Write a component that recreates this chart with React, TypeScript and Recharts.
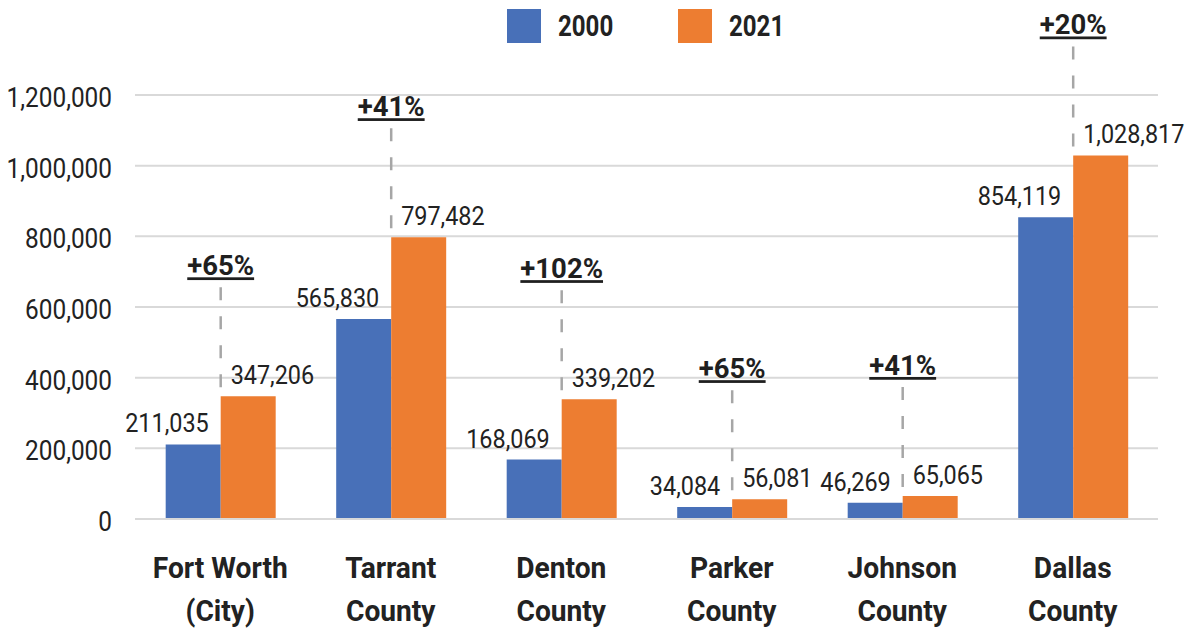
import { BarChart, Bar, XAxis, YAxis, CartesianGrid, LabelList } from 'recharts';

const regions = [
  'Fort Worth\n(City)',
  'Tarrant\nCounty',
  'Denton\nCounty',
  'Parker\nCounty',
  'Johnson\nCounty',
  'Dallas\nCounty',
];
const pop2000 = [211035, 565830, 168069, 34084, 46269, 854119];
const pop2021 = [347206, 797482, 339202, 56081, 65065, 1028817];
const yTicks = [0, 200000, 400000, 600000, 800000, 1000000, 1200000];

const series = [
  { key: 'y2000', name: '2000', color: '#4870B8' },
  { key: 'y2021', name: '2021', color: '#ED7D31' },
];

const growth = pop2000.map((v, i) => `+${Math.round(((pop2021[i] - v) / v) * 100)}%`);

const data = regions.map((region, i) => ({
  region,
  y2000: pop2000[i],
  y2021: pop2021[i],
  growth: growth[i],
}));

const FONT = 'Roboto, "Noto Sans", sans-serif';
const TEXT = '#222222';
const fmt = (v: number) => v.toLocaleString('en-US');

// narrow the glyphs so Roboto reads like a condensed face
const Narrow = ({ x, y, anchor, size, weight, scale, children }: any) => (
  <text
    transform={`translate(${x},${y}) scale(${scale},1)`}
    x={0}
    y={0}
    textAnchor={anchor}
    fontFamily={FONT}
    fontSize={size}
    fontWeight={weight}
    fill={TEXT}
  >
    {children}
  </text>
);

const YTick = ({ x, y, payload }: any) => (
  <Narrow x={x} y={y + 12} anchor="end" size={28} weight={400} scale={0.87}>
    {fmt(payload.value)}
  </Narrow>
);

const XTick = ({ x, y, payload }: any) => {
  const lines = String(payload.value).split('\n');
  return (
    <g>
      {lines.map((line, i) => (
        <Narrow key={i} x={x} y={y + 51 + i * 43} anchor="middle" size={29.5} weight={700} scale={0.955}>
          {line}
        </Narrow>
      ))}
    </g>
  );
};

const Label2000 = ({ x, y, width, value }: any) => (
  <Narrow x={x + width - 12} y={y - 12} anchor="end" size={26} weight={400} scale={0.9}>
    {fmt(value)}
  </Narrow>
);

// value label plus the growth callout with its dashed leader
const Label2021 = ({ x, y, value, index }: any) => (
  <g>
    <Narrow x={x + 10} y={y - 12} anchor="start" size={26} weight={400} scale={0.9}>
      {fmt(value)}
    </Narrow>
    <line x1={x} x2={x} y1={y - 109} y2={y - 9} stroke="#a6a6a6" strokeWidth={2.5} strokeDasharray="13 16" />
    <text
      x={x}
      y={y - 121}
      textAnchor="middle"
      fontFamily={FONT}
      fontSize={27.5}
      fontWeight={700}
      fill="#1f1f1f"
      textDecoration="underline"
    >
      {growth[index]}
    </text>
  </g>
);

export default function App() {
  return (
    <div style={{ position: 'relative', width: 1191, height: 632, background: '#fff' }}>
      <style>{'body{margin:0}'}</style>
      <div style={{ position: 'absolute', top: 9, left: 507, display: 'flex', alignItems: 'center' }}>
        {series.map((s, i) => (
          <div key={s.key} style={{ display: 'flex', alignItems: 'center', marginRight: i === 0 ? 53 : 0 }}>
            <div style={{ width: 34, height: 34, background: s.color }} />
            <span
              style={{
                marginLeft: 17,
                fontFamily: FONT,
                fontWeight: 700,
                fontSize: 29,
                color: TEXT,
                display: 'inline-block',
                transform: 'scaleX(0.83)',
                transformOrigin: 'left center',
              }}
            >
              {s.name}
            </span>
          </div>
        ))}
      </div>
      <BarChart
        width={1191}
        height={632}
        data={data}
        margin={{ top: 95, right: 33, left: 0, bottom: 0 }}
        barCategoryGap="18%"
        barGap={0}
      >
        <CartesianGrid vertical={false} stroke="#d9d9d9" strokeWidth={2} />
        <XAxis
          dataKey="region"
          height={113}
          axisLine={{ stroke: '#d9d9d9', strokeWidth: 2 }}
          tickLine={false}
          tick={<XTick />}
          interval={0}
        />
        <YAxis
          width={135}
          domain={[0, 1200000]}
          ticks={yTicks}
          axisLine={false}
          tickLine={false}
          tickMargin={17}
          tick={<YTick />}
        />
        <Bar dataKey="y2000" name="2000" fill={series[0].color} isAnimationActive={false}>
          <LabelList dataKey="y2000" content={<Label2000 />} />
        </Bar>
        <Bar dataKey="y2021" name="2021" fill={series[1].color} isAnimationActive={false}>
          <LabelList dataKey="y2021" content={<Label2021 />} />
        </Bar>
      </BarChart>
    </div>
  );
}
